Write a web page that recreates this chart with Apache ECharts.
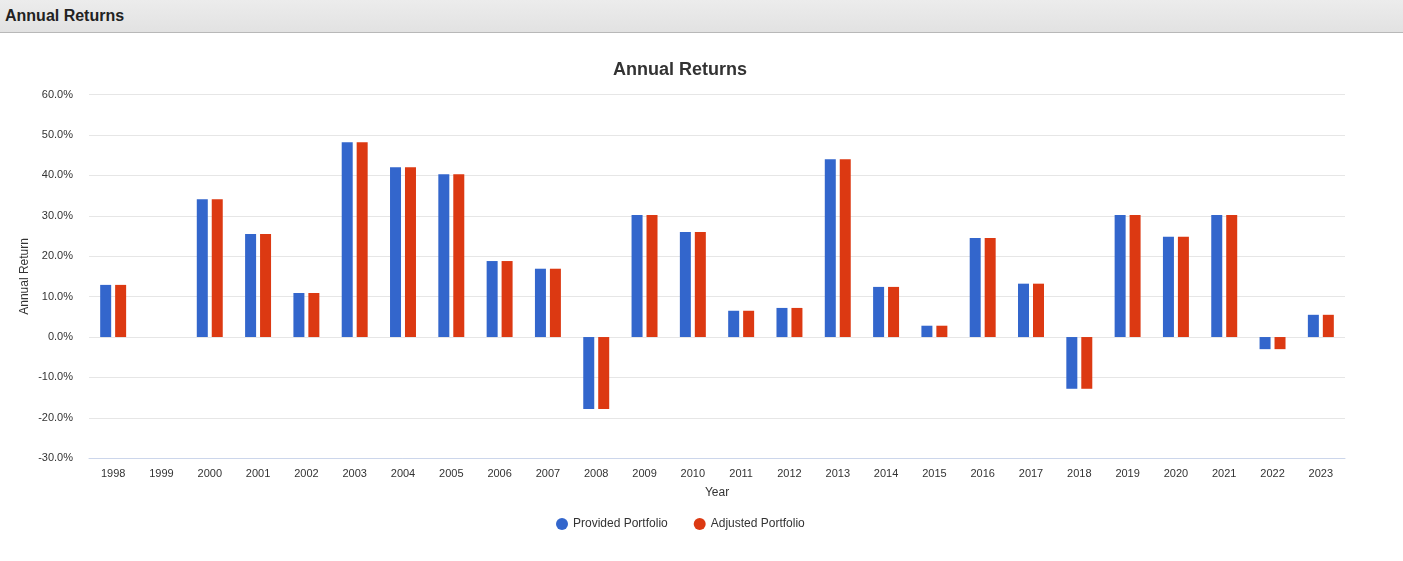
<!DOCTYPE html>
<html>
<head>
<meta charset="utf-8">
<script src="https://cdn.jsdelivr.net/npm/echarts@6/dist/echarts.min.js"></script>
<style>
html,body{margin:0;padding:0;background:#fff;}
#hdr{position:absolute;left:0;top:0;width:1403px;height:33px;background:linear-gradient(#ececec,#e2e2e2);border-bottom:1px solid #b8b8b8;box-sizing:border-box;font-family:"Liberation Sans",Arial,sans-serif;font-weight:bold;font-size:16px;color:#222;line-height:32px;padding-left:5px;z-index:2;}
#chart{position:absolute;left:0;top:0;width:1403px;height:561px;}
</style>
</head>
<body>
<div id="hdr">Annual Returns</div>
<div id="chart"></div>
<script>
const years = ['1998','1999','2000','2001','2002','2003','2004','2005','2006','2007','2008','2009','2010','2011','2012','2013','2014','2015','2016','2017','2018','2019','2020','2021','2022','2023'];
const providedPortfolio = [12.9, null, 34.1, 25.5, 10.9, 48.2, 42.0, 40.3, 18.8, 16.9, -17.8, 30.2, 26.0, 6.5, 7.2, 44.0, 12.4, 2.8, 24.5, 13.2, -12.8, 30.2, 24.8, 30.2, -3.0, 5.5];
const adjustedPortfolio = [12.9, null, 34.1, 25.5, 10.9, 48.2, 42.0, 40.3, 18.8, 16.9, -17.8, 30.2, 26.0, 6.5, 7.2, 44.0, 12.4, 2.8, 24.5, 13.2, -12.8, 30.2, 24.8, 30.2, -3.0, 5.5];
const seriesNames = ['Provided Portfolio', 'Adjusted Portfolio'];

const FONT = '"Liberation Sans", Arial, sans-serif';
const chart = echarts.init(document.getElementById('chart'));
chart.setOption({
  animation: false,
  title: {
    text: 'Annual Returns',
    left: 608, top: 56,
    textStyle: {fontFamily: FONT, fontSize: 18, fontWeight: 'bold', color: '#333'}
  },
  legend: {
    data: seriesNames,
    left: 551, top: 513,
    icon: 'circle', itemWidth: 12, itemHeight: 12, itemGap: 26,
    textStyle: {fontFamily: FONT, fontSize: 12, color: '#333'}
  },
  grid: {left: 89, right: 58, top: 94.5, bottom: 102.7, containLabel: false},
  xAxis: {
    type: 'category',
    data: years,
    name: 'Year', nameLocation: 'middle', nameGap: 28,
    nameTextStyle: {fontFamily: FONT, fontSize: 12, color: '#333'},
    axisLine: {onZero: false, lineStyle: {color: '#ccd6eb', width: 1}},
    axisTick: {show: false},
    axisLabel: {fontFamily: FONT, fontSize: 11, color: '#333', margin: 10, interval: 0}
  },
  yAxis: {
    type: 'value', min: -30, max: 60, interval: 10,
    name: 'Annual Return', nameLocation: 'middle', nameGap: 58, nameRotate: 90,
    nameMoveOverlap: false,
    nameTextStyle: {fontFamily: FONT, fontSize: 12, color: '#333'},
    axisLine: {show: false}, axisTick: {show: false},
    axisLabel: {fontFamily: FONT, fontSize: 11, color: '#333', margin: 16, formatter: v => v.toFixed(1) + '%'},
    splitLine: {lineStyle: {color: '#e6e6e6', width: 1}}
  },
  series: [
    {name: seriesNames[0], type: 'bar', data: providedPortfolio, barWidth: 11, barGap: '36%', itemStyle: {color: '#3366cc'}},
    {name: seriesNames[1], type: 'bar', data: adjustedPortfolio, barWidth: 11, barGap: '36%', itemStyle: {color: '#dc3912'}}
  ]
});
</script>
</body>
</html>
